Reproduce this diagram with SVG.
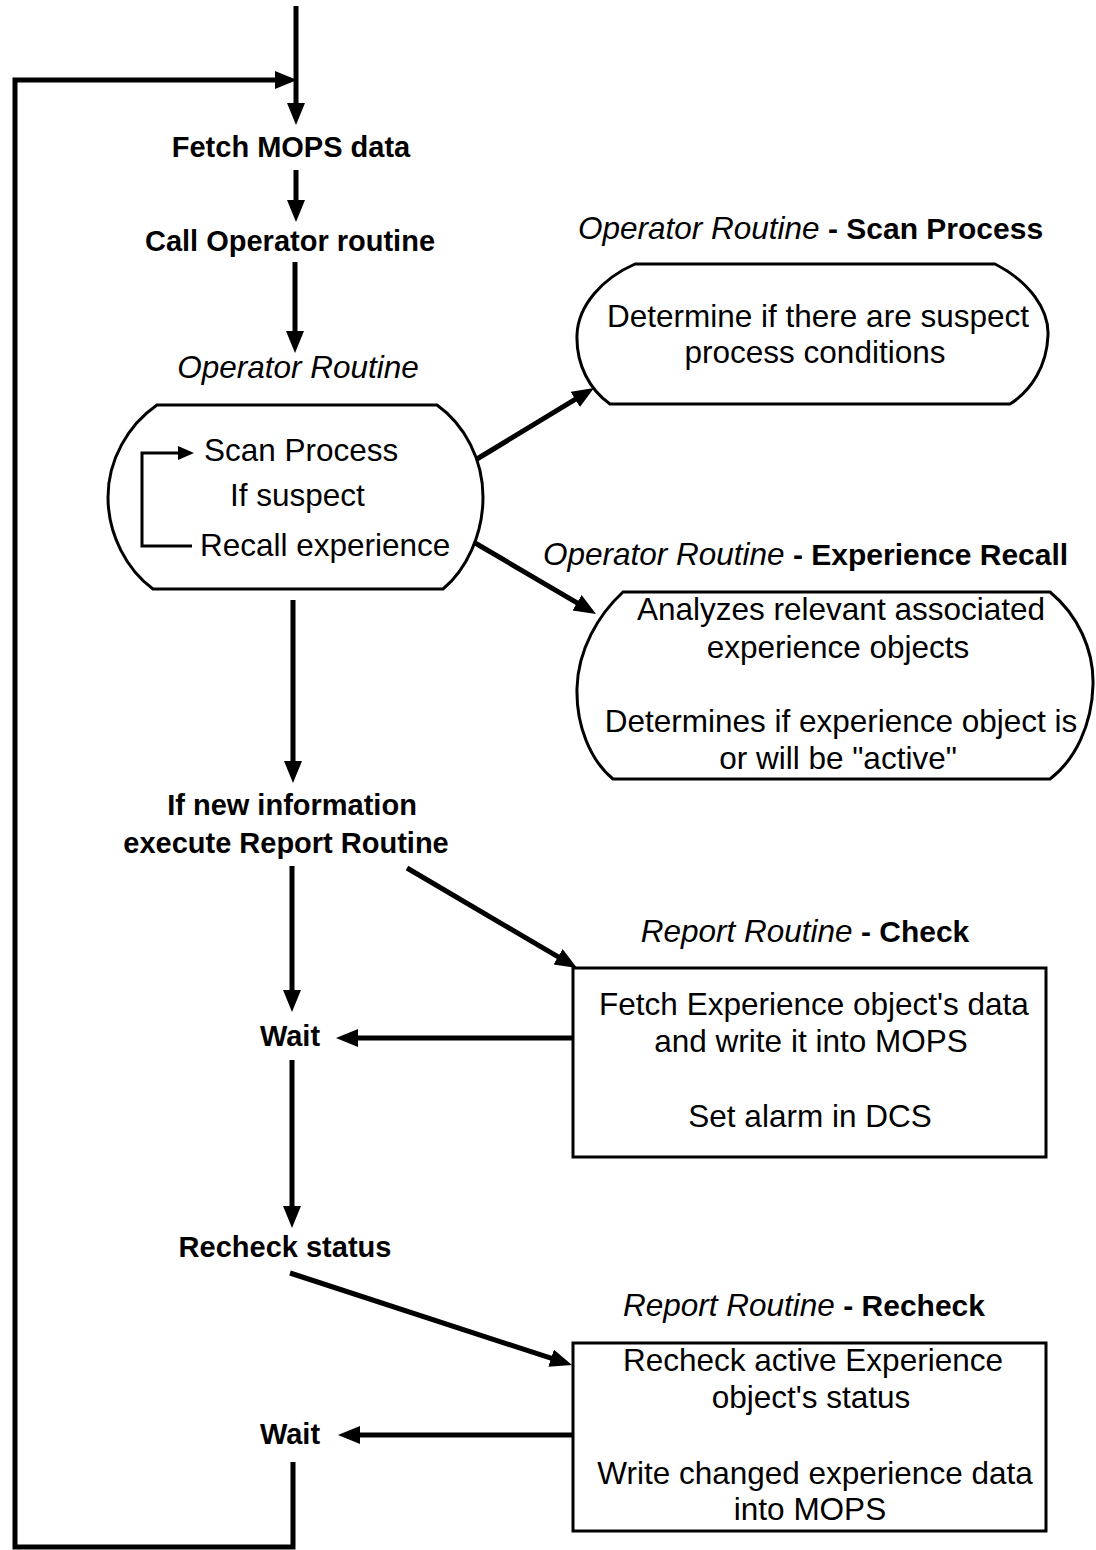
<svg xmlns="http://www.w3.org/2000/svg" width="1096" height="1550" viewBox="0 0 1096 1550">
<style>
text{font-family:"Liberation Sans",Arial,sans-serif;fill:#000}
.b{font-weight:bold;font-size:29px}
.r{font-size:31.5px}
.i{font-style:italic}
.hb{font-weight:bold;font-size:30px}
.c{text-anchor:middle}
.shape{fill:#fff;stroke:#000;stroke-width:3}
.con{fill:none;stroke:#000;stroke-width:5}
.thin{fill:none;stroke:#000;stroke-width:3}
</style>
<defs>
<marker id="ah" markerUnits="userSpaceOnUse" markerWidth="24" markerHeight="20" refX="12" refY="9" orient="auto">
<path d="M0,0 L22,9 L0,18 Z" fill="#000"/>
</marker>
<marker id="ahs" markerUnits="userSpaceOnUse" markerWidth="18" markerHeight="16" refX="6" refY="7" orient="auto">
<path d="M0,0 L16,7 L0,14 Z" fill="#000"/>
</marker>
</defs>
<rect width="1096" height="1550" fill="#fff"/>

<g id="connectors">
<line class="con" x1="296" y1="6" x2="296" y2="115" marker-end="url(#ah)"/>
<polyline class="con" points="293,1462 293,1547 15,1547 15,80 287,80" marker-end="url(#ah)"/>
<line class="con" x1="296" y1="170" x2="296" y2="212" marker-end="url(#ah)"/>
<line class="con" x1="295" y1="262" x2="295" y2="343" marker-end="url(#ah)"/>
<line class="con" x1="293" y1="600" x2="293" y2="773" marker-end="url(#ah)"/>
<line class="con" x1="292" y1="866" x2="292" y2="1002" marker-end="url(#ah)"/>
<line class="con" x1="292" y1="1060" x2="292" y2="1218" marker-end="url(#ah)"/>
<line class="con" x1="573" y1="1038" x2="346" y2="1038" marker-end="url(#ah)"/>
<line class="con" x1="573" y1="1435" x2="348" y2="1435" marker-end="url(#ah)"/>
<line class="con" x1="472" y1="462" x2="585.5" y2="393.2" marker-end="url(#ah)"/>
<line class="con" x1="470" y1="540" x2="587.4" y2="608.9" marker-end="url(#ah)"/>
<line class="con" x1="407" y1="868" x2="568.4" y2="962.9" marker-end="url(#ah)"/>
<line class="con" x1="290" y1="1273" x2="562.5" y2="1361.9" marker-end="url(#ah)"/>
</g>

<g id="n-fetch"><text class="b c" x="291" y="157">Fetch MOPS data</text></g>
<g id="n-call"><text class="b c" x="290" y="251">Call Operator routine</text></g>

<g id="n-operator">
<text class="r i c" x="298" y="378">Operator Routine</text>
<path class="shape" d="M157,405 L437,405 C465,425 483,460 483,497 C483,535 466,570 443,589 L153,589 C127,570 108,535 108,497 C108,460 128,425 157,405 Z"/>
<text class="r" x="204" y="461">Scan Process</text>
<text class="r" x="230" y="506">If suspect</text>
<text class="r" x="200" y="556">Recall experience</text>
<polyline class="thin" points="192,546 142,546 142,453 184,453" marker-end="url(#ahs)"/>
</g>

<g id="n-scan">
<text class="r" x="578" y="239"><tspan class="i">Operator Routine</tspan><tspan class="hb"> - Scan Process</tspan></text>
<path class="shape" d="M635,264 L995,264 C1030,282 1049,310 1048,335 C1047,365 1032,390 1010,404 L610,404 C590,390 576,365 577,335 C578,305 603,278 635,264 Z"/>
<text class="r c" x="818" y="327">Determine if there are suspect</text>
<text class="r c" x="815" y="363">process conditions</text>
</g>

<g id="n-recall">
<text class="r" x="543" y="565"><tspan class="i">Operator Routine</tspan><tspan class="hb"> - Experience Recall</tspan></text>
<path class="shape" d="M623,592 L1050,592 C1078,615 1094,650 1093,685 C1092,725 1075,760 1050,779 L613,779 C590,760 576,725 577,688 C578,650 598,615 623,592 Z"/>
<text class="r c" x="841" y="620">Analyzes relevant associated</text>
<text class="r c" x="838" y="658">experience objects</text>
<text class="r c" x="841" y="732">Determines if experience object is</text>
<text class="r c" x="838" y="769">or will be "active"</text>
</g>

<g id="n-ifnew">
<text class="b c" x="292" y="815">If new information</text>
<text class="b c" x="286" y="853">execute Report Routine</text>
</g>

<g id="n-check">
<text class="r c" x="805" y="942"><tspan class="i">Report Routine</tspan><tspan class="hb"> - Check</tspan></text>
<rect class="shape" x="573" y="968" width="473" height="189"/>
<text class="r c" x="814" y="1015">Fetch Experience object's data</text>
<text class="r c" x="811" y="1052">and write it into MOPS</text>
<text class="r c" x="810" y="1127">Set alarm in DCS</text>
</g>

<g id="n-wait1"><text class="b c" x="290" y="1046">Wait</text></g>
<g id="n-recheckstatus"><text class="b c" x="285" y="1257">Recheck status</text></g>

<g id="n-recheck">
<text class="r c" x="804" y="1316"><tspan class="i">Report Routine</tspan><tspan class="hb"> - Recheck</tspan></text>
<rect class="shape" x="573" y="1343" width="473" height="188"/>
<text class="r c" x="813" y="1371">Recheck active Experience</text>
<text class="r c" x="811" y="1408">object's status</text>
<text class="r c" x="815" y="1484">Write changed experience data</text>
<text class="r c" x="810" y="1520">into MOPS</text>
</g>

<g id="n-wait2"><text class="b c" x="290" y="1444">Wait</text></g>
</svg>
